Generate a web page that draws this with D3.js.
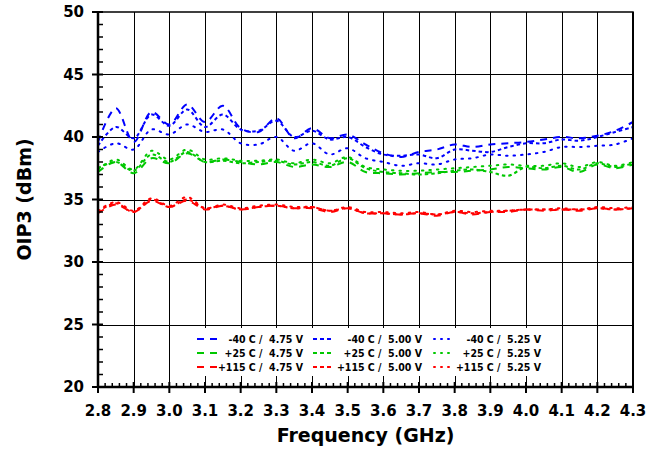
<!DOCTYPE html>
<html lang="en">
<head>
<meta charset="utf-8">
<title>OIP3 vs frequency</title>
<script src="https://cdn.jsdelivr.net/npm/d3@7"></script>
<style>
body { margin: 0; background: #fff; }
svg { display: block; font-family: "DejaVu Sans", Verdana, sans-serif; font-weight: bold; }
</style>
</head>
<body>
<script>
// frequency points (GHz)
const freq = [2.80,2.85,2.90,2.95,3.00,3.05,3.10,3.15,3.20,3.25,3.30,3.35,3.40,3.45,3.50,3.55,
              3.60,3.65,3.70,3.75,3.80,3.85,3.90,3.95,4.00,4.05,4.10,4.15,4.20,4.25,4.30];

// OIP3 (dBm)
const m40_475 = [39.6,42.3,39.6,42.0,41.0,42.6,41.2,42.5,40.7,40.4,41.5,39.9,40.7,39.9,40.2,39.4,
                 38.7,38.4,38.8,39.0,39.4,39.2,39.4,39.5,39.6,39.8,40.0,39.9,40.1,40.5,41.2];
const m40_500 = [39.3,40.8,39.9,41.8,40.9,42.2,40.8,41.8,40.6,40.5,41.3,40.0,40.5,39.8,40.0,39.2,
                 38.6,38.5,38.6,38.3,39.0,38.9,38.8,39.2,39.5,39.5,39.8,39.7,40.0,40.4,40.8];
const m40_525 = [38.8,39.5,39.0,40.6,40.2,41.0,40.4,40.6,39.5,39.4,40.0,38.9,39.5,38.6,39.1,38.3,
                 38.0,37.7,37.9,37.8,38.2,38.3,38.6,38.5,38.6,38.8,39.2,39.2,39.3,39.4,39.9];
const p25_475 = [37.2,38.0,37.1,38.3,37.9,38.7,38.0,38.2,38.0,37.8,38.0,37.6,37.8,37.6,38.0,37.2,
                 37.1,37.0,37.1,37.2,37.2,37.3,37.4,37.6,37.5,37.4,37.6,37.2,37.8,37.5,37.8];
const p25_500 = [37.5,38.0,37.3,38.6,38.0,38.8,38.0,38.1,37.9,38.0,38.1,37.8,38.0,37.7,38.3,37.5,
                 37.2,37.1,37.0,37.1,37.3,37.4,37.2,36.9,37.6,37.5,37.7,37.4,37.9,37.6,37.9];
const p25_525 = [37.4,38.2,37.4,38.9,38.2,39.0,38.2,38.3,38.1,38.1,38.2,37.9,38.2,37.9,38.4,37.6,
                 37.4,37.3,37.3,37.4,37.5,37.6,37.7,37.8,37.7,37.7,37.9,37.6,38.0,37.7,38.0];
const p115_475 = [33.9,34.6,34.0,34.9,34.4,34.9,34.2,34.5,34.2,34.4,34.5,34.3,34.3,34.0,34.3,33.9,
                  33.9,33.8,33.9,33.7,34.0,33.8,34.0,34.0,34.2,34.1,34.2,34.1,34.3,34.2,34.3];
const p115_500 = [34.0,34.7,34.0,35.0,34.4,35.0,34.3,34.5,34.2,34.4,34.5,34.3,34.4,34.1,34.3,33.9,
                  33.9,33.8,33.9,33.8,34.0,33.9,34.0,34.1,34.2,34.2,34.2,34.2,34.3,34.2,34.3];
const p115_525 = [34.1,34.8,34.1,35.1,34.5,35.2,34.3,34.6,34.3,34.5,34.6,34.4,34.4,34.1,34.4,34.0,
                  34.0,33.9,34.0,33.8,34.1,34.0,34.1,34.1,34.2,34.2,34.3,34.2,34.4,34.3,34.4];

const legendNames = ["-40 C /  4.75 V","-40 C /  5.00 V","-40 C /  5.25 V",
                     "+25 C /  4.75 V","+25 C /  5.00 V","+25 C /  5.25 V",
                     "+115 C /  4.75 V","+115 C /  5.00 V","+115 C /  5.25 V"];
const seriesValues = [m40_475,m40_500,m40_525,p25_475,p25_500,p25_525,p115_475,p115_500,p115_525];

const xTicks = [2.8,2.9,3.0,3.1,3.2,3.3,3.4,3.5,3.6,3.7,3.8,3.9,4.0,4.1,4.2,4.3];
const yTicks = [20,25,30,35,40,45,50];

const colors = ["#0000ff","#00c800","#ff0000"];
const dashes = ["7,6","3.5,3","1.5,6"];

const w = 663, h = 451;
const pLeft = 98, pRight = 633, pTop = 12, pBottom = 387;

const svg = d3.select("body").append("svg").attr("width", w).attr("height", h);

const x = d3.scaleLinear().domain([2.8, 4.3]).range([pLeft, pRight]);
const y = d3.scaleLinear().domain([20, 50]).range([pBottom, pTop]);

// grid
svg.append("g").selectAll("line").data(yTicks.slice(1, -1)).enter().append("line")
    .attr("x1", pLeft).attr("x2", pRight)
    .attr("y1", d => Math.round(y(d)) + 0.5).attr("y2", d => Math.round(y(d)) + 0.5)
    .attr("stroke", "#000").attr("stroke-width", 1);
svg.append("g").selectAll("line").data(xTicks.slice(1, -1)).enter().append("line")
    .attr("y1", pTop).attr("y2", pBottom)
    .attr("x1", d => Math.round(x(d)) + 0.5).attr("x2", d => Math.round(x(d)) + 0.5)
    .attr("stroke", "#000").attr("stroke-width", 1);

// series
const line = d3.line()
    .x((d, i) => x(freq[i]))
    .y(d => y(d))
    .curve(d3.curveCatmullRom.alpha(0.5));

seriesValues.forEach(function(vals, k){
    svg.append("path")
        .attr("d", line(vals))
        .attr("fill", "none")
        .attr("stroke", colors[Math.floor(k / 3)])
        .attr("stroke-width", 2)
        .attr("stroke-linecap", k % 3 == 2 ? "round" : "butt")
        .attr("stroke-dasharray", dashes[k % 3]);
});

// legend with white box
const leg = svg.append("g");
leg.append("rect").attr("x", 190).attr("y", 328).attr("width", 362).attr("height", 48).attr("fill", "#fff");
const colX = [197, 313, 432];
const colTextEnd = [303, 422, 541];
const rowY = [339, 353, 367];
legendNames.forEach(function(name, k){
    const r = Math.floor(k / 3), c = k % 3;
    leg.append("line")
        .attr("x1", colX[c]).attr("x2", colX[c] + 20)
        .attr("y1", rowY[r]).attr("y2", rowY[r])
        .attr("stroke", colors[r]).attr("stroke-width", 2)
        .attr("stroke-linecap", c == 2 ? "round" : "butt")
        .attr("stroke-dasharray", c == 0 ? "7,6" : c == 1 ? "4,3" : "1,6")
        .attr("stroke-dashoffset", c == 2 ? -2 : 0);
    leg.append("text")
        .attr("x", colTextEnd[c]).attr("y", rowY[r] + 4)
        .attr("text-anchor", "end")
        .attr("font-family", "'DejaVu Sans Condensed', 'DejaVu Sans', sans-serif")
        .attr("font-size", "10.5px")
        .style("white-space", "pre")
        .text(name);
});

// frame
svg.append("rect").attr("x", pLeft).attr("y", pTop).attr("width", pRight - pLeft).attr("height", pBottom - pTop)
    .attr("fill", "none").attr("stroke", "#000").attr("stroke-width", 1.5);
svg.append("line").attr("x1", pRight).attr("x2", pRight).attr("y1", pTop).attr("y2", pBottom)
    .attr("stroke", "#000").attr("stroke-width", 2);
svg.append("line").attr("x1", pLeft).attr("x2", pLeft).attr("y1", pTop).attr("y2", pBottom + 1)
    .attr("stroke", "#000").attr("stroke-width", 2.5);
svg.append("line").attr("x1", pLeft - 1).attr("x2", pRight + 1).attr("y1", pBottom).attr("y2", pBottom)
    .attr("stroke", "#000").attr("stroke-width", 2.5);

// y axis ticks
const yMinor = d3.range(20, 50.01, 1).filter(v => v % 5 != 0);
svg.append("g").selectAll("line").data(yMinor).enter().append("line")
    .attr("x1", pLeft).attr("x2", pLeft + 5)
    .attr("y1", d => y(d)).attr("y2", d => y(d))
    .attr("stroke", "#000").attr("stroke-width", 1.5);
svg.append("g").selectAll("line").data(yTicks).enter().append("line")
    .attr("x1", pLeft - 6).attr("x2", pLeft + 5)
    .attr("y1", d => y(d)).attr("y2", d => y(d))
    .attr("stroke", "#000").attr("stroke-width", 2);
svg.append("g").selectAll("text").data(yTicks).enter().append("text")
    .attr("x", 84).attr("y", d => y(d) + 5)
    .attr("text-anchor", "end").attr("font-size", "15px")
    .text(d => d);

// x axis ticks
const xMinor = d3.range(0, 76).map(i => 2.8 + i * 0.02).filter((v, i) => i % 5 != 0);
svg.append("g").selectAll("line").data(xMinor).enter().append("line")
    .attr("x1", d => x(d)).attr("x2", d => x(d))
    .attr("y1", pBottom).attr("y2", pBottom - 4)
    .attr("stroke", "#000").attr("stroke-width", 1.5);
svg.append("g").selectAll("line").data(xTicks).enter().append("line")
    .attr("x1", d => x(d)).attr("x2", d => x(d))
    .attr("y1", pBottom + 6).attr("y2", pBottom - 5)
    .attr("stroke", "#000").attr("stroke-width", 2);
svg.append("g").selectAll("text").data(xTicks).enter().append("text")
    .attr("x", d => x(d)).attr("y", 416)
    .attr("text-anchor", "middle").attr("font-size", "15px")
    .text(d => d.toFixed(1));

// axis titles
svg.append("text").attr("x", (pLeft + pRight) / 2).attr("y", 442)
    .attr("text-anchor", "middle").attr("font-size", "19px")
    .text("Frequency (GHz)");
svg.append("text").attr("transform", "translate(31," + ((pTop + pBottom) / 2) + ") rotate(-90)")
    .attr("text-anchor", "middle").attr("font-size", "19px")
    .text("OIP3 (dBm)");
</script>
</body>
</html>
